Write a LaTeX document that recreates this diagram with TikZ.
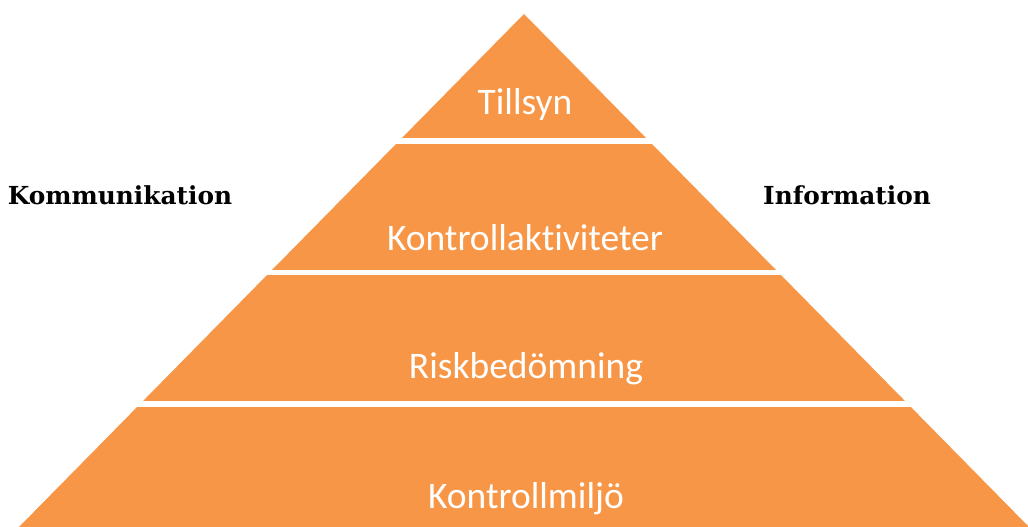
\documentclass[tikz,border=0pt]{standalone}
\usepackage{fontspec}
\setmainfont{Carlito}[Ligatures=NoCommon]
\newfontfamily\sidefont{DejaVu Serif}
\usepackage{xcolor}
\definecolor{pyrorange}{HTML}{F79646}
\usetikzlibrary{calc}

\begin{document}
\begin{tikzpicture}[x = 1pt, y = -1pt]
	\def\xMAX{1028};
	\def\yMAX{527};
	\def\gap{5.5};

	\tikzset{
		layer/.style = {text = white, font = \fontsize{37.5}{37.5}\selectfont},
		side/.style = {text = black, font = \sidefont\bfseries\fontsize{24.8}{24.8}\selectfont}
	}

	\useasboundingbox (0,0) rectangle (\xMAX,\yMAX);

	\begin{scope}
		\fill [pyrorange] (524,14) -- (19,527) -- (1029,527) -- cycle;
	\end{scope}

	\begin{scope}[white, line width = \gap pt]
		\draw (0,141) -- (\xMAX,141);
		\draw (0,272.5) -- (\xMAX,272.5);
		\draw (0,404) -- (\xMAX,404);
	\end{scope}

	\begin{scope}
		\node [layer] (tillsyn) at (525,105) {Tillsyn};
		\node [layer] (kontroll) at (525,238) {Kontrollaktiviteter};
		\node [layer] (risk) at (526,369) {Riskbedömning};
		\node [layer] (miljo) at (526,499) {Kontrollmiljö};
	\end{scope}

	\begin{scope}
		\node [side] (komm) at (120,195) {Kommunikation};
		\node [side] (info) at (847,195) {Information};
	\end{scope}
\end{tikzpicture}
\end{document}
